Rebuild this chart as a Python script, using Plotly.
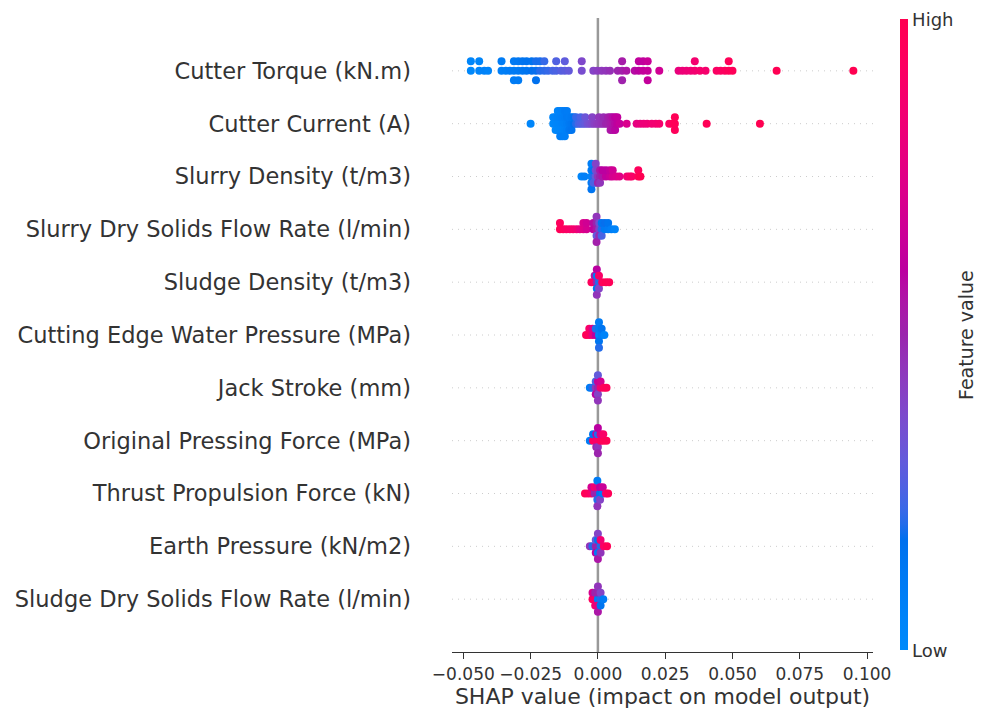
import numpy as np
import plotly.graph_objects as go

# ---------------- data ----------------
features = [
    "Cutter Torque (kN.m)",
    "Cutter Current (A)",
    "Slurry Density (t/m3)",
    "Slurry Dry Solids Flow Rate (l/min)",
    "Sludge Density (t/m3)",
    "Cutting Edge Water Pressure (MPa)",
    "Jack Stroke (mm)",
    "Original Pressing Force (MPa)",
    "Thrust Propulsion Force (kN)",
    "Earth Pressure (kN/m2)",
    "Sludge Dry Solids Flow Rate (l/min)",
]

torque_shap = [-0.0472, -0.0472, -0.0441, -0.0441, -0.0422, -0.0408,
               -0.0358, -0.0358, -0.0342, -0.0327, -0.0312, -0.0312, -0.0312,
               -0.0296, -0.0296, -0.0296, -0.0280, -0.0280, -0.0265, -0.0265,
               -0.0246, -0.0246, -0.0230, -0.0230, -0.0230, -0.0215, -0.0215,
               -0.0199, -0.0199, -0.0185, -0.0168, -0.0155, -0.0155, -0.0137,
               -0.0123, -0.0123, -0.0108,
               -0.0060, -0.0060, -0.0017, -0.0002, 0.0014, 0.0030, 0.0045,
               0.0074, 0.0090, 0.0090, 0.0090, 0.0106,
               0.0137, 0.0152, 0.0152, 0.0168, 0.0168, 0.0185, 0.0185, 0.0185,
               0.0228,
               0.0300, 0.0314, 0.0329, 0.0345, 0.0360, 0.0360, 0.0379, 0.0400,
               0.0441, 0.0456, 0.0472, 0.0486, 0.0486, 0.0500,
               0.0664, 0.0949]
torque_val = [0.02, 0.03, 0.05, 0.04, 0.06, 0.05,
              0.08, 0.10, 0.09, 0.10, 0.11, 0.12, 0.10,
              0.12, 0.13, 0.11, 0.14, 0.15, 0.15, 0.16,
              0.17, 0.16, 0.18, 0.19, 0.17, 0.20, 0.19,
              0.21, 0.22, 0.22, 0.24, 0.25, 0.26, 0.27,
              0.28, 0.29, 0.30,
              0.36, 0.38, 0.40, 0.42, 0.44, 0.45, 0.47,
              0.50, 0.52, 0.53, 0.51, 0.55,
              0.58, 0.60, 0.62, 0.63, 0.62, 0.64, 0.65, 0.63,
              0.68,
              0.80, 0.82, 0.83, 0.84, 0.86, 0.87, 0.88, 0.88,
              0.92, 0.93, 0.94, 0.96, 0.97, 0.97,
              0.99, 1.00]

current_shap = [-0.0250,
                -0.0166, -0.0166, -0.0157, -0.0157, -0.0157,
                -0.0149, -0.0149, -0.0149, -0.0149,
                -0.0140, -0.0140, -0.0140, -0.0140, -0.0140,
                -0.0132, -0.0132, -0.0132, -0.0132, -0.0132,
                -0.0123, -0.0123, -0.0123, -0.0123, -0.0123,
                -0.0115, -0.0115, -0.0115, -0.0115,
                -0.0106, -0.0106, -0.0106, -0.0098, -0.0098, -0.0098,
                -0.0089, -0.0089,
                -0.0081, -0.0081, -0.0072, -0.0064, -0.0064, -0.0055,
                -0.0047, -0.0047, -0.0038, -0.0030, -0.0021, -0.0021,
                -0.0013, -0.0004, 0.0004, 0.0004, 0.0013, 0.0021, 0.0021,
                0.0030, 0.0038, 0.0038, 0.0047, 0.0047, 0.0047,
                0.0055, 0.0055, 0.0055, 0.0064, 0.0064, 0.0064,
                0.0072, 0.0072, 0.0081,
                0.0107, 0.0144, 0.0157, 0.0170, 0.0183, 0.0200, 0.0215, 0.0228,
                0.0265, 0.0277, 0.0286, 0.0286, 0.0286, 0.0404, 0.0602]
current_val = [0.03,
               0.02, 0.04, 0.03, 0.05, 0.02,
               0.04, 0.06, 0.03, 0.05,
               0.05, 0.07, 0.04, 0.06, 0.08,
               0.06, 0.08, 0.05, 0.07, 0.09,
               0.07, 0.09, 0.06, 0.10, 0.08,
               0.09, 0.11, 0.08, 0.10,
               0.12, 0.10, 0.13, 0.14, 0.12, 0.15,
               0.17, 0.15,
               0.20, 0.22, 0.24, 0.26, 0.25, 0.28,
               0.30, 0.32, 0.34, 0.36, 0.38, 0.40,
               0.41, 0.43, 0.44, 0.45, 0.46, 0.47, 0.48,
               0.50, 0.51, 0.52, 0.53, 0.54, 0.55,
               0.55, 0.57, 0.56, 0.58, 0.60, 0.59,
               0.61, 0.62, 0.64,
               0.72, 0.78, 0.80, 0.82, 0.83, 0.85, 0.86, 0.88,
               0.93, 0.95, 0.97, 0.98, 0.96, 0.98, 1.00]

slurry_density_shap = [-0.0061, -0.0050,
                       -0.0024, -0.0024, -0.0024, -0.0024, -0.0024,
                       -0.0016, -0.0016, -0.0016,
                       -0.0008, -0.0008, -0.0008, -0.0008,
                       0.0000, 0.0000, 0.0000, 0.0008, 0.0008, 0.0008,
                       0.0017, 0.0017, 0.0030, 0.0030, 0.0045, 0.0045,
                       0.0055, 0.0055, 0.0068, 0.0080,
                       0.0108, 0.0118, 0.0126, 0.0150, 0.0150, 0.0158]
slurry_density_val = [0.04, 0.08,
                      0.05, 0.10, 0.12, 0.08, 0.15,
                      0.20, 0.15, 0.25,
                      0.30, 0.35, 0.25, 0.40,
                      0.45, 0.40, 0.50, 0.50, 0.55, 0.45,
                      0.55, 0.60, 0.62, 0.60, 0.65, 0.63,
                      0.70, 0.68, 0.72, 0.75,
                      0.85, 0.88, 0.90, 0.97, 0.95, 1.00]

slurry_solids_shap = [-0.0141, -0.0141, -0.0129, -0.0117, -0.0104, -0.0092, -0.0079,
                      -0.0067, -0.0054, -0.0054, -0.0042, -0.0042,
                      -0.0017, -0.0017,
                      -0.0005, -0.0005, -0.0005, -0.0005, -0.0005,
                      0.0005, 0.0005, 0.0005,
                      0.0014, 0.0014, 0.0014, 0.0026, 0.0026, 0.0038, 0.0038,
                      0.0050, 0.0063]
slurry_solids_val = [0.98, 0.95, 0.95, 0.92, 0.90, 0.88, 0.85,
                     0.78, 0.75, 0.72, 0.70, 0.68,
                     0.62, 0.58,
                     0.55, 0.50, 0.30, 0.45, 0.52,
                     0.40, 0.35, 0.48,
                     0.20, 0.15, 0.25, 0.12, 0.18, 0.10, 0.15,
                     0.08, 0.05]

sludge_density_shap = [-0.0024, -0.0012, -0.0012,
                       -0.0004, -0.0004, -0.0004, -0.0004, -0.0004,
                       0.0004, 0.0004, 0.0004, 0.0016, 0.0030, 0.0042]
sludge_density_val = [0.95, 0.90, 0.55,
                      0.50, 0.10, 0.15, 0.60, 0.45,
                      0.20, 0.90, 0.40, 0.95, 0.98, 0.97]

water_pressure_shap = [-0.0044, -0.0032, -0.0032, -0.0020, -0.0020, -0.0008, -0.0008,
                       0.0004, 0.0004, 0.0004, 0.0004, 0.0004,
                       0.0014, 0.0014, 0.0024]
water_pressure_val = [0.98, 0.95, 0.90, 0.80, 0.75, 0.60, 0.20,
                      0.05, 0.10, 0.15, 0.10, 0.20,
                      0.10, 0.15, 0.05]

jack_stroke_shap = [-0.0030, -0.0020, -0.0008, -0.0008, -0.0008,
                    0.0000, 0.0000, 0.0000, 0.0000, 0.0000,
                    0.0010, 0.0010, 0.0022, 0.0032]
jack_stroke_val = [0.10, 0.20, 0.45, 0.25, 0.60,
                   0.50, 0.65, 0.40, 0.30, 0.45,
                   0.85, 0.70, 0.95, 0.97]

pressing_force_shap = [-0.0030, -0.0018, -0.0018, -0.0006, -0.0006, -0.0006,
                       0.0000, 0.0000, 0.0000, 0.0000, 0.0000,
                       0.0010, 0.0010, 0.0020, 0.0020, 0.0032]
pressing_force_val = [0.10, 0.95, 0.15, 0.90, 0.65, 0.50,
                      0.90, 0.20, 0.45, 0.60, 0.50,
                      0.95, 0.70, 0.97, 0.90, 0.98]

thrust_force_shap = [-0.0048, -0.0036, -0.0024, -0.0024, -0.0012, -0.0012,
                     -0.0002, -0.0002, -0.0002, -0.0002, -0.0002,
                     0.0008, 0.0008, 0.0008, 0.0018, 0.0018, 0.0030, 0.0038]
thrust_force_val = [0.98, 0.95, 0.90, 0.70, 0.50, 0.85,
                    0.50, 0.80, 0.20, 0.10, 0.45,
                    0.15, 0.60, 0.40, 0.10, 0.65, 0.90, 0.97]

earth_pressure_shap = [-0.0030, -0.0020, -0.0008, -0.0008, -0.0008,
                       0.0000, 0.0000, 0.0000, 0.0000, 0.0000,
                       0.0010, 0.0010, 0.0010, 0.0022, 0.0034]
earth_pressure_val = [0.45, 0.20, 0.50, 0.30, 0.60,
                      0.50, 0.15, 0.10, 0.40, 0.55,
                      0.20, 0.85, 0.45, 0.90, 0.98]

sludge_solids_shap = [-0.0020, -0.0020, -0.0010, -0.0010, -0.0010,
                      0.0000, 0.0000, 0.0000, 0.0000, 0.0000,
                      0.0010, 0.0010, 0.0010, 0.0020]
sludge_solids_val = [0.95, 0.70, 0.90, 0.50, 0.85,
                     0.10, 0.50, 0.80, 0.45, 0.55,
                     0.20, 0.40, 0.15, 0.10]

shap_rows = [torque_shap, current_shap, slurry_density_shap, slurry_solids_shap,
             sludge_density_shap, water_pressure_shap, jack_stroke_shap,
             pressing_force_shap, thrust_force_shap, earth_pressure_shap,
             sludge_solids_shap]
value_rows = [torque_val, current_val, slurry_density_val, slurry_solids_val,
              sludge_density_val, water_pressure_val, jack_stroke_val,
              pressing_force_val, thrust_force_val, earth_pressure_val,
              sludge_solids_val]

x_ticks = [-0.05, -0.025, 0.0, 0.025, 0.05, 0.075, 0.1]
x_tick_text = ["\u22120.050", "\u22120.025", "0.000", "0.025", "0.050", "0.075", "0.100"]

# ---------------- SHAP red-blue colour map (Lch interpolation) ----------------
def lch2rgb(L, C, h):
    a = C * np.cos(h)
    b = C * np.sin(h)
    fy = (L + 16) / 116
    fx = fy + a / 500
    fz = fy - b / 200

    def finv(t):
        return np.where(t > 6 / 29, t ** 3, 3 * (6 / 29) ** 2 * (t - 4 / 29))

    X = 0.95047 * finv(fx)
    Y = finv(fy)
    Z = 1.08883 * finv(fz)
    M = np.array([[3.2406, -1.5372, -0.4986],
                  [-0.9689, 1.8758, 0.0415],
                  [0.0557, -0.2040, 1.0570]])
    rgb = M @ np.array([X, Y, Z])
    rgb = np.clip(rgb, 0, None)
    rgb = np.where(rgb > 0.0031308, 1.055 * np.power(rgb, 1 / 2.4) - 0.055, 12.92 * rgb)
    return np.clip(rgb, 0, 1)


blue_lch = [54.0, 70.0, 4.6588]
red_lch = [54.0, 90.0, 0.35470565 + 2 * np.pi]
l_mid = 40.0
colorscale = []
for t in np.linspace(0, 1, 41):
    L = blue_lch[0] + (l_mid - blue_lch[0]) * (t / 0.5) if t <= 0.5 else l_mid + (red_lch[0] - l_mid) * ((t - 0.5) / 0.5)
    C = blue_lch[1] + (red_lch[1] - blue_lch[1]) * t
    H = blue_lch[2] + (red_lch[2] - blue_lch[2]) * t
    r, g, b = lch2rgb(L, C, H)
    colorscale.append([float(t), "rgb(%d,%d,%d)" % (round(r * 255), round(g * 255), round(b * 255))])

# ---------------- beeswarm layout (SHAP style) ----------------
row_height = 0.4
nbins = 100
xs_all, ys_all, cs_all, names_all = [], [], [], []
n_feat = len(features)
for i, (sv, fv) in enumerate(zip(shap_rows, value_rows)):
    pos = n_feat - 1 - i
    s = np.array(sv, dtype=float)
    quant = np.round(nbins * (s - s.min()) / (s.max() - s.min() + 1e-8))
    inds = np.argsort(quant, kind="stable")
    layer = 0
    last_bin = -1
    ys = np.zeros(len(s))
    for ind in inds:
        if quant[ind] != last_bin:
            layer = 0
        ys[ind] = np.ceil(layer / 2) * ((layer % 2) * 2 - 1)
        layer += 1
        last_bin = quant[ind]
    ys *= 0.9 * (row_height / np.max(ys + 1))
    xs_all.extend(s.tolist())
    ys_all.extend((pos + ys).tolist())
    cs_all.extend(fv)
    names_all.extend([features[i]] * len(s))

FONT = "DejaVu Sans"
AX = "#333333"

fig = go.Figure()
fig.add_trace(go.Scatter(
    x=xs_all, y=ys_all, mode="markers",
    text=names_all,
    marker=dict(
        size=8, color=cs_all, colorscale=colorscale, cmin=0, cmax=1,
        line=dict(width=0),
        showscale=True,
        colorbar=dict(
            x=(900 - 452) / 421, xanchor="left", xpad=0,
            y=0.5, yanchor="middle", ypad=0,
            len=0.995, lenmode="fraction", thickness=8,
            outlinewidth=0,
            tickvals=[0, 1], ticktext=["Low", "High"], ticks="",
            tickfont=dict(family=FONT, size=18, color=AX),
        ),
    ),
    hovertemplate="%{text}<br>SHAP=%{x:.4f}<extra></extra>",
    showlegend=False,
))

shapes = []
for k in range(n_feat):
    shapes.append(dict(type="line", xref="paper", x0=0, x1=1, yref="y", y0=k, y1=k,
                       line=dict(color="#cccccc", width=1, dash="1px,5px"), layer="below"))
shapes.append(dict(type="line", xref="x", x0=0, x1=0, yref="paper", y0=0, y1=1,
                   line=dict(color="#999999", width=2.5), layer="below"))

fig.update_layout(
    width=987, height=714,
    margin=dict(l=452, r=987 - 873, t=18, b=60),
    paper_bgcolor="white", plot_bgcolor="white",
    font=dict(family=FONT, color=AX),
    shapes=shapes,
    annotations=[dict(text="Feature value", xref="paper", yref="paper",
                      x=(966 - 452) / 421, y=0.5, textangle=-90, showarrow=False,
                      xanchor="center", yanchor="middle",
                      font=dict(family=FONT, size=19, color=AX))],
)
fig.update_xaxes(
    range=[-0.0542, 0.1022], tickvals=x_ticks, ticktext=x_tick_text,
    showgrid=False, zeroline=False, showline=True, linecolor=AX, linewidth=1.3,
    ticks="outside", ticklen=6, tickwidth=1.3, tickcolor=AX,
    tickfont=dict(family=FONT, size=17, color=AX),
    title=dict(text="SHAP value (impact on model output)", standoff=3,
               font=dict(family=FONT, size=22, color=AX)),
)
fig.update_yaxes(
    range=[-1, n_feat], tickvals=list(range(n_feat)), ticktext=features[::-1],
    showgrid=False, zeroline=False, showline=False, ticks="",
    ticklabelstandoff=40,
    tickfont=dict(family=FONT, size=22.5, color=AX),
)

fig.write_html("out.html")
